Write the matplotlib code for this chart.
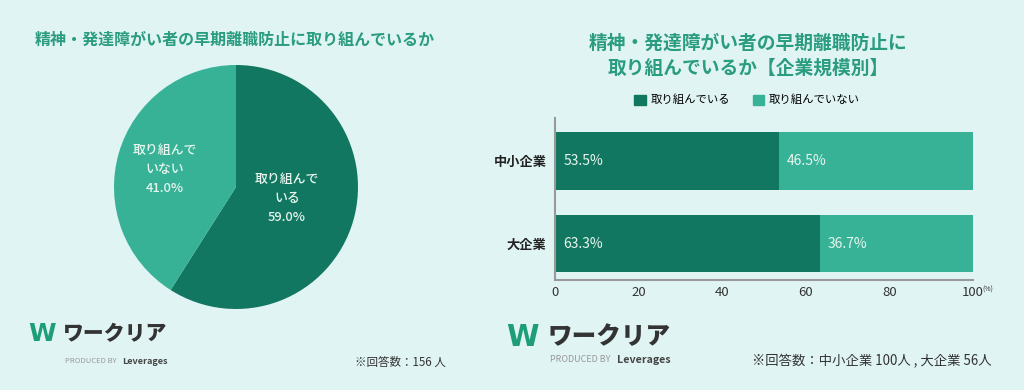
import matplotlib
matplotlib.use("Agg")
import matplotlib.pyplot as plt
import numpy as np
from matplotlib.patches import Patch

plt.rcParams['font.family'] = ['Noto Sans CJK JP', 'DejaVu Sans']

# data
pie_labels = ['取り組んで\nいる', '取り組んで\nいない']
pie_values = [59.0, 41.0]
companies = ['中小企業', '大企業']
doing = [53.5, 63.3]
not_doing = [46.5, 36.7]
series_names = ['取り組んでいる', '取り組んでいない']
x_ticks = [0, 20, 40, 60, 80, 100]

dark = '#127760'
light = '#37b296'
title_col = '#2a9c80'
bg = '#e1f4f4'
W, H = 1024, 390

fig = plt.figure(figsize=(W / 100, H / 100), dpi=100, facecolor=bg)

def px(x0, y0, w, h):
    # pixel box (left, top, width, height) -> figure fraction
    return [x0 / W, 1 - (y0 + h) / H, w / W, h / H]

# ---- left: pie ----
fig.text(235 / W, 1 - 40 / H, '精神・発達障がい者の早期離職防止に取り組んでいるか',
         ha='center', va='center', fontsize=11.5, fontweight='bold', color=title_col)

ax1 = fig.add_axes(px(114, 65, 244, 244))
wedges, _ = ax1.pie(pie_values, colors=[dark, light], startangle=90, counterclock=False,
                    radius=1.0)
ax1.set_xlim(-1, 1)
ax1.set_ylim(-1, 1)
ax1.set_aspect('equal')
label_pos = [(0.43, -13), (0.6, 166)]  # radius, angle
for lab, val, (r, a) in zip(pie_labels, pie_values, label_pos):
    ang = np.deg2rad(a)
    ax1.text(r * np.cos(ang), r * np.sin(ang), f'{lab}\n{val:.1f}%', ha='center', va='center',
             fontsize=9.3, fontweight='medium', color='#e8f6f0', linespacing=1.6)

# ---- right: stacked bars ----
fig.text(748 / W, 1 - 43 / H, '精神・発達障がい者の早期離職防止に', ha='center', va='center',
         fontsize=13.5, fontweight='bold', color=title_col)
fig.text(748 / W, 1 - 68 / H, '取り組んでいるか【企業規模別】', ha='center', va='center',
         fontsize=13.5, fontweight='bold', color=title_col)

ax2 = fig.add_axes(px(555, 118, 418, 162))
ax2.set_facecolor('none')
ypos = np.array([1, 0])
ax2.barh(ypos, doing, height=0.70, color=dark)
ax2.barh(ypos, not_doing, left=doing, height=0.70, color=light)
for y, d, n in zip(ypos, doing, not_doing):
    ax2.text(2, y, f'{d:.1f}%', va='center', ha='left', fontsize=10, color='#e8f6f0')
    ax2.text(d + 2, y, f'{n:.1f}%', va='center', ha='left', fontsize=10, color='#e8f6f0')
ax2.set_xlim(0, 100)
ax2.set_ylim(-0.442, 1.52)
ax2.set_yticks(ypos)
ax2.set_yticklabels(companies, fontsize=9.5, fontweight='bold', color='#222222')
ax2.set_xticks(x_ticks)
ax2.set_xticklabels([str(t) for t in x_ticks], fontsize=9.5, color='#333333')
ax2.tick_params(length=0, pad=4)
ax2.tick_params(axis='y', pad=6)
for s in ['top', 'right']:
    ax2.spines[s].set_visible(False)
for s in ['left', 'bottom']:
    ax2.spines[s].set_color('#999999')
    ax2.spines[s].set_linewidth(1.5)
fig.text(982 / W, 1 - 290 / H, '(%)', ha='left', va='center', fontsize=5, color='#333333')

handles = [Patch(color=dark), Patch(color=light)]
fig.legend(handles, series_names, loc='center', bbox_to_anchor=(747 / W, 1 - 100 / H), ncol=2,
           frameon=False, fontsize=8.2, handlelength=1.0, handleheight=1.0, columnspacing=2.0,
           handletextpad=0.4)

# ---- logos and notes ----
for lx, ly, s, dy in [(28, 334, 1.0, 27), (506, 337, 1.18, 23)]:
    fig.text(lx / W, 1 - ly / H, 'W', ha='left', va='center', fontsize=18 * s, fontweight='bold',
             color='#1d9e78', family='DejaVu Sans')
    fig.text((lx + 35 * s) / W, 1 - ly / H, 'ワークリア', ha='left', va='center', fontsize=15 * s,
             fontweight=900, color='#333333')
    fig.text((lx + 37 * s) / W, 1 - (ly + dy) / H, 'PRODUCED BY', ha='left', va='center',
             fontsize=5.5 * s, color='#999999')
    fig.text((lx + 94 * s) / W, 1 - (ly + dy) / H, 'Leverages', ha='left', va='center',
             fontsize=6.5 * s, fontweight='bold', color='#444444')

fig.text(355 / W, 1 - 362 / H, '※回答数：156 人', ha='left', va='center', fontsize=8.3,
         color='#333333')
fig.text(752 / W, 1 - 361 / H, '※回答数：中小企業 100人 , 大企業 56人', ha='left', va='center',
         fontsize=9.6, color='#333333')

fig.savefig('out.png', dpi=100, facecolor=bg)
